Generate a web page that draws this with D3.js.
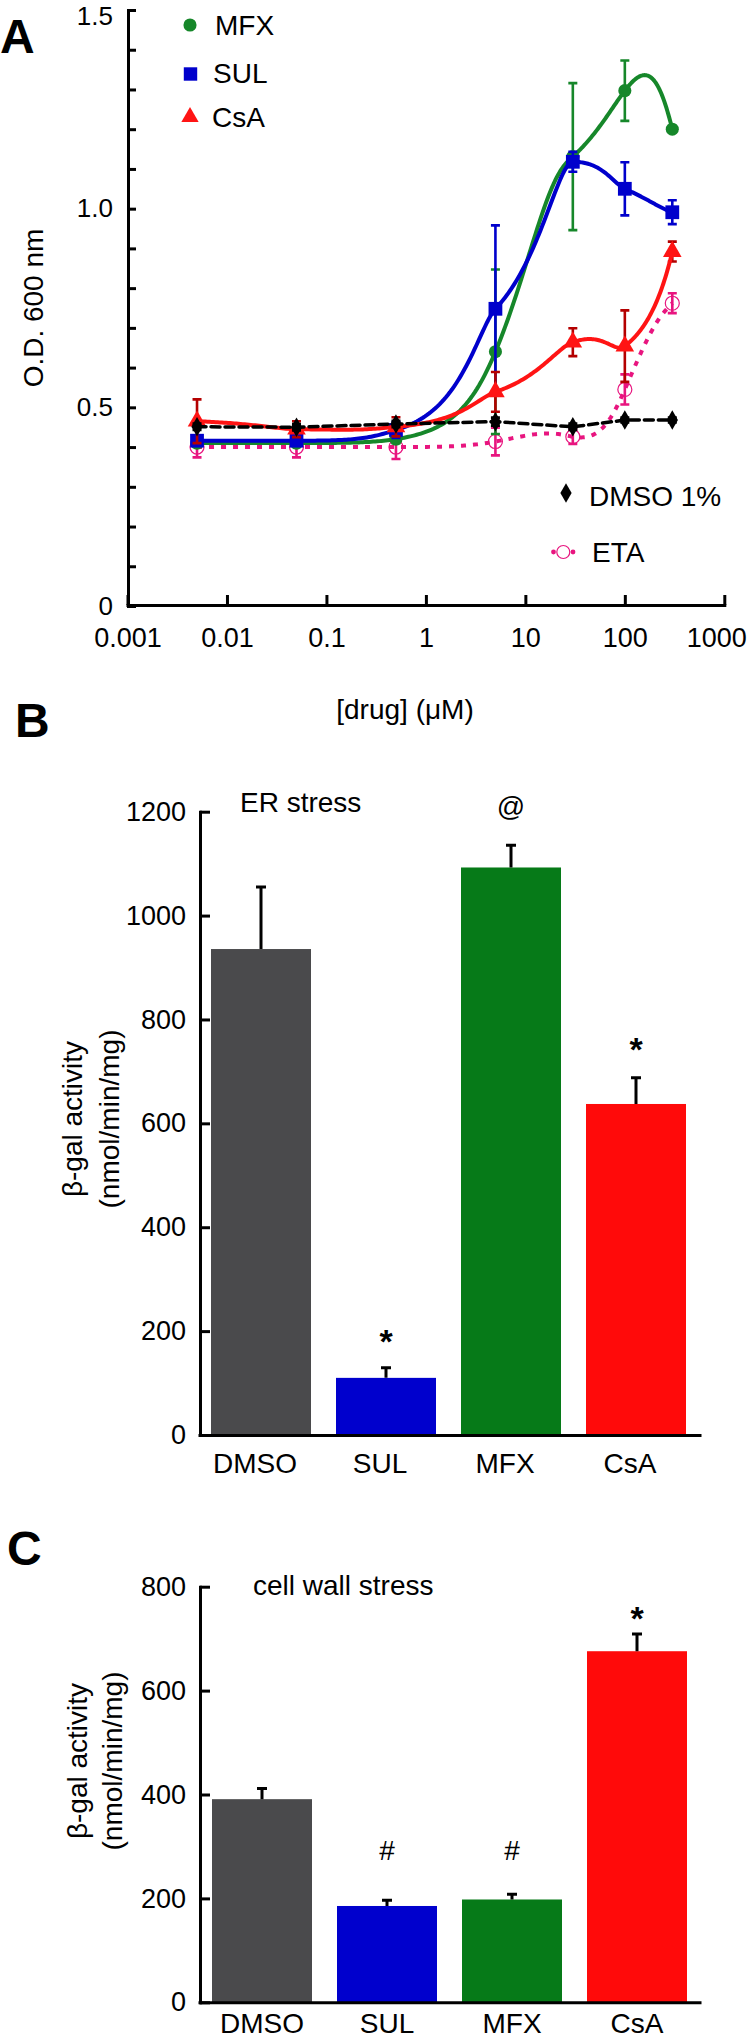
<!DOCTYPE html>
<html><head><meta charset="utf-8">
<script src="https://cdn.jsdelivr.net/npm/d3@7"></script>
<style>
body{margin:0;background:#fff}
svg{display:block}
text{font-family:"Liberation Sans",Arial,Helvetica,sans-serif;fill:#000}
</style>
</head><body>
<svg id="chart" width="747" height="2039"></svg>
<script>
// ---------- DATA ----------
// Panel A: growth (O.D. 600 nm) vs drug concentration (uM)
const conc = [0.005, 0.05, 0.5, 5, 30, 100, 300];
const mfxOD = [0.41, 0.41, 0.42, 0.64, 1.131, 1.297, 1.2];
const mfxErr = [0.01, 0.01, 0.01, 0.207, 0.185, 0.076, 0];
const sulOD = [0.416, 0.416, 0.443, 0.748, 1.118, 1.05, 0.991];
const sulErr = [0.012, 0.012, 0.02, 0.21, 0.025, 0.067, 0.03];
const csaOD = [0.465, 0.445, 0.451, 0.539, 0.664, 0.654, 0.892];
const csaErr = [0.055, 0.02, 0.024, 0.05, 0.035, 0.09, 0.025];
const dmsoOD = [0.451, 0.45, 0.458, 0.464, 0.451, 0.468, 0.468];
const dmsoErr = [0.008, 0.008, 0.008, 0.01, 0.008, 0.006, 0.006];
const etaOD = [0.40, 0.40, 0.40, 0.414, 0.426, 0.545, 0.762];
const etaErr = [0.026, 0.026, 0.03, 0.035, 0.018, 0.038, 0.025];
const seriesNamesA = ["MFX", "SUL", "CsA", "DMSO 1%", "ETA"];

const xTicksA = [0.001, 0.01, 0.1, 1, 10, 100, 1000];
const xTickLabelsA = ["0.001", "0.01", "0.1", "1", "10", "100", "1000"];
const yMajorA = [0, 0.5, 1.0, 1.5];
const yMajorLabelsA = ["0", "0.5", "1.0", "1.5"];

// Panels B and C: beta-gal activity
const barCats = ["DMSO", "SUL", "MFX", "CsA"];
const erValues = [935.6, 110, 1092.6, 637.3];
const erErr = [119.2, 19.6, 42.9, 50.7];
const erMarks = ["", "*", "@", "*"];
const erMarkAt = [null, 157.9, 1191.8, 721];
const cwValues = [391, 185.4, 197.9, 675.8];
const cwErr = [20.7, 10.9, 10.1, 33.2];
const cwMarks = ["", "#", "#", "*"];
const cwMarkAt = [null, 274, 274, 717.6];
const yTicksB = [0, 200, 400, 600, 800, 1000, 1200];
const yTicksC = [0, 200, 400, 600, 800];

// ---------- STYLES ----------
const FONT = '"Liberation Sans",Arial,Helvetica,sans-serif';
const COL = {mfx:"#16872a", sul:"#0000cc", csa:"#ff1414", csaErr:"#b40000", dmso:"#000", eta:"#e8157f"};
const barColors = ["#4a4a4c", "#0000cd", "#067a18", "#ff0a0a"];

const svg = d3.select("#chart");

// Custom d3 curve: cubic spline computed in linear concentration space,
// rendered on the log axis (as the original plotting program did).
// "natural": natural cubic spline; "chord": finite-difference Hermite;
// "chordMono": finite-difference Hermite with monotonicity limiter.
function linearSpaceSpline(scale, mode) {
  return function(context) {
    let px = [], py = [];
    return {
      areaStart() {}, areaEnd() {},
      lineStart() { px = []; py = []; },
      point(x, y) { px.push(+x); py.push(+y); },
      lineEnd() {
        const n = px.length;
        if (!n) return;
        const c = px.map(v => scale.invert(v));
        const h = [], d = [];
        for (let i = 0; i < n - 1; i++) { h.push(c[i + 1] - c[i]); d.push((py[i + 1] - py[i]) / h[i]); }
        let evalSeg;
        if (mode === "natural") {
          const M = new Array(n).fill(0);
          if (n > 2) {
            const m = n - 2, a = [], b = [], cc = [], r = [];
            for (let i = 1; i <= m; i++) { a.push(h[i - 1]); b.push(2 * (h[i - 1] + h[i])); cc.push(h[i]); r.push(6 * (d[i] - d[i - 1])); }
            for (let i = 1; i < m; i++) { const w = a[i] / b[i - 1]; b[i] -= w * cc[i - 1]; r[i] -= w * r[i - 1]; }
            const sol = new Array(m);
            sol[m - 1] = r[m - 1] / b[m - 1];
            for (let i = m - 2; i >= 0; i--) sol[i] = (r[i] - cc[i] * sol[i + 1]) / b[i];
            for (let i = 0; i < m; i++) M[i + 1] = sol[i];
          }
          evalSeg = (i, cv) => {
            const u = cv - c[i], v = c[i + 1] - cv;
            return (M[i] * v * v * v + M[i + 1] * u * u * u) / (6 * h[i])
              + (py[i] / h[i] - M[i] * h[i] / 6) * v + (py[i + 1] / h[i] - M[i + 1] * h[i] / 6) * u;
          };
        } else {
          const m = new Array(n).fill(0);
          for (let i = 1; i < n - 1; i++) {
            m[i] = (py[i + 1] - py[i - 1]) / (c[i + 1] - c[i - 1]);
            if (mode === "chordMono") {
              if (d[i - 1] * d[i] <= 0) m[i] = 0;
              else {
                const lim = 3 * Math.min(Math.abs(d[i - 1]), Math.abs(d[i]));
                if (Math.abs(m[i]) > lim) m[i] = Math.sign(m[i]) * lim;
              }
            }
          }
          if (n > 2) { m[0] = 2 * d[0] - m[1]; m[n - 1] = 2 * d[n - 2] - m[n - 2]; }
          else if (n === 2) { m[0] = m[1] = d[0]; }
          evalSeg = (i, cv) => {
            const t = (cv - c[i]) / h[i], t2 = t * t, t3 = t2 * t;
            return (2 * t3 - 3 * t2 + 1) * py[i] + (t3 - 2 * t2 + t) * h[i] * m[i]
              + (-2 * t3 + 3 * t2) * py[i + 1] + (t3 - t2) * h[i] * m[i + 1];
          };
        }
        context.moveTo(px[0], py[0]);
        const N = 48;
        for (let i = 0; i < n - 1; i++) {
          for (let k = 1; k <= N; k++) {
            const cv = c[i] * Math.pow(c[i + 1] / c[i], k / N);
            context.lineTo(scale(cv), evalSeg(i, cv));
          }
        }
      }
    };
  };
}

function styleAxis(g, fs) {
  g.attr("font-family", FONT).attr("font-size", fs);
  g.selectAll("path.domain").attr("stroke", "#000").attr("stroke-width", 3).attr("stroke-linecap", "square");
  g.selectAll(".tick line").attr("stroke", "#000").attr("stroke-width", 3);
  g.selectAll(".tick text").attr("fill", "#000");
}

// ---------- PANEL A ----------
const xA = d3.scaleLog().domain([0.001, 1000]).range([127.5, 724.3]);
const yA = d3.scaleLinear().domain([0, 1.5]).range([606, 10]);
const gA = svg.append("g");

const yAxisA = d3.axisLeft(yA)
  .tickValues(d3.range(0, 16).map(i => i / 10))
  .tickSize(-8).tickSizeOuter(0).tickPadding(15)
  .tickFormat(d => { const k = yMajorA.findIndex(m => Math.abs(m - d) < 1e-9); return k >= 0 ? yMajorLabelsA[k] : ""; });
const gyA = gA.append("g").attr("transform", "translate(128,0)").call(yAxisA);
styleAxis(gyA, 26);
gyA.selectAll(".tick text").filter(d => Math.abs(d - 1.5) < 1e-9).attr("dy", "0.54em");

const xAxisA = d3.axisBottom(xA).tickValues(xTicksA).tickSize(-10).tickSizeOuter(0).tickPadding(23)
  .tickFormat((d, i) => xTickLabelsA[i]);
const gxA = gA.append("g").attr("transform", "translate(0,605)").call(xAxisA);
styleAxis(gxA, 27);
gxA.selectAll(".tick text").filter(d => d === 1000).attr("text-anchor", "end").attr("x", 22);

gA.append("text").attr("x", 405).attr("y", 719).attr("text-anchor", "middle").attr("font-size", 28).text("[drug] (\u03BCM)");
gA.append("text").attr("transform", "translate(43,308) rotate(-90)").attr("text-anchor", "middle").attr("font-size", 28).text("O.D. 600 nm");
svg.append("text").attr("x", 0).attr("y", 53).attr("font-size", 48).attr("font-weight", "bold").text("A");

const seriesA = [
  {name: seriesNamesA[4], v: etaOD, e: etaErr, color: COL.eta, ecolor: COL.eta, sym: "open", dash: "5,7", w: 4, curve: linearSpaceSpline(xA, "natural")},
  {name: seriesNamesA[0], v: mfxOD, e: mfxErr, color: COL.mfx, ecolor: COL.mfx, sym: d3.symbolCircle, size: 135, dash: null, w: 4, curve: linearSpaceSpline(xA, "natural")},
  {name: seriesNamesA[1], v: sulOD, e: sulErr, color: COL.sul, ecolor: COL.sul, sym: d3.symbolSquare, size: 190, dash: null, w: 4, curve: linearSpaceSpline(xA, "chordMono")},
  {name: seriesNamesA[2], v: csaOD, e: csaErr, color: COL.csa, ecolor: COL.csaErr, sym: d3.symbolTriangle, size: 150, dash: null, w: 4, curve: linearSpaceSpline(xA, "chord")},
  {name: seriesNamesA[3], v: dmsoOD, e: dmsoErr, color: COL.dmso, ecolor: COL.dmso, sym: d3.symbolDiamond, size: 110, dash: "9,5", w: 3.5, curve: d3.curveLinear}
];

seriesA.forEach(s => {
  const g = gA.append("g");
  const pts = conc.map((c, i) => ({c, v: s.v[i], e: s.e[i]}));
  g.selectAll("path.err").data(pts.filter(p => p.e > 0)).join("path").attr("class", "err")
    .attr("d", p => {
      const cx = xA(p.c), y1 = yA(p.v + p.e), y0 = yA(p.v - p.e);
      return `M${cx},${y1}V${y0}M${cx - 4.5},${y1}h9M${cx - 4.5},${y0}h9`;
    })
    .attr("stroke", s.ecolor).attr("stroke-width", 2.6).attr("fill", "none");
  const line = d3.line().x(p => xA(p.c)).y(p => yA(p.v)).curve(s.curve);
  g.append("path").datum(pts).attr("d", line).attr("fill", "none")
    .attr("stroke", s.color).attr("stroke-width", s.w)
    .attr("stroke-dasharray", s.dash).attr("stroke-linecap", s.sym === "open" ? "butt" : "round")
    .attr("stroke-linejoin", "round");
  if (s.sym === "open") {
    g.selectAll("circle.m").data(pts).join("circle").attr("class", "m")
      .attr("cx", p => xA(p.c)).attr("cy", p => yA(p.v)).attr("r", 7)
      .attr("fill", "none").attr("stroke", s.color).attr("stroke-width", 1.2);
  } else {
    const sym = d3.symbol().type(s.sym).size(s.size);
    g.selectAll("path.m").data(pts).join("path").attr("class", "m")
      .attr("transform", p => `translate(${xA(p.c)},${yA(p.v)})`).attr("d", sym).attr("fill", s.color);
  }
});

// legend A
const legendA = [
  {name: seriesNamesA[0], sym: d3.symbolCircle, size: 135, color: COL.mfx, mx: 190, my: 25, tx: 215, ty: 35},
  {name: seriesNamesA[1], sym: d3.symbolSquare, size: 180, color: COL.sul, mx: 190.5, my: 74, tx: 213, ty: 83},
  {name: seriesNamesA[2], sym: d3.symbolTriangle, size: 130, color: COL.csa, mx: 190, my: 117, tx: 212, ty: 127},
  {name: seriesNamesA[3], sym: d3.symbolDiamond, size: 110, color: "#000", mx: 566, my: 493, tx: 589, ty: 506}
];
legendA.forEach(l => {
  gA.append("path").attr("transform", `translate(${l.mx},${l.my})`).attr("d", d3.symbol().type(l.sym).size(l.size)).attr("fill", l.color);
  gA.append("text").attr("x", l.tx).attr("y", l.ty).attr("font-size", 28).text(l.name);
});
gA.append("circle").attr("cx", 553.5).attr("cy", 552).attr("r", 2.4).attr("fill", COL.eta);
gA.append("circle").attr("cx", 573).attr("cy", 552).attr("r", 2.4).attr("fill", COL.eta);
gA.append("circle").attr("cx", 563.3).attr("cy", 552).attr("r", 6.5).attr("fill", "none").attr("stroke", COL.eta).attr("stroke-width", 1.2);
gA.append("text").attr("x", 592).attr("y", 562).attr("font-size", 28).text(seriesNamesA[4]);

// ---------- BAR PANELS ----------
function barPanel(opts) {
  const g = svg.append("g");
  const x = d3.scaleBand().domain(barCats).range([opts.x0, opts.x0 + 500]).paddingInner(0.2).paddingOuter(0.1);
  const y = d3.scaleLinear().domain([0, opts.ymax]).range([opts.y0, opts.y1]);
  g.selectAll("rect.bar").data(barCats).join("rect").attr("class", "bar")
    .attr("x", d => x(d)).attr("width", x.bandwidth())
    .attr("y", (d, i) => y(opts.values[i])).attr("height", (d, i) => y(0) - y(opts.values[i]))
    .attr("fill", (d, i) => barColors[i]);
  g.selectAll("path.err").data(barCats).join("path").attr("class", "err")
    .attr("d", (d, i) => {
      const cx = x(d) + x.bandwidth() / 2, yt = y(opts.values[i] + opts.err[i]), yb = y(opts.values[i]);
      return `M${cx},${yb}V${yt}M${cx - 5},${yt}h10`;
    })
    .attr("stroke", "#000").attr("stroke-width", 3).attr("fill", "none");
  g.selectAll("text.mark").data(barCats.filter((d, i) => opts.marks[i])).join("text").attr("class", "mark")
    .attr("x", d => x(d) + x.bandwidth() / 2)
    .attr("y", d => y(opts.markAt[barCats.indexOf(d)]))
    .attr("text-anchor", "middle")
    .attr("font-size", d => opts.marks[barCats.indexOf(d)] === "*" ? 34 : 28)
    .attr("font-weight", d => opts.marks[barCats.indexOf(d)] === "*" ? "bold" : "normal")
    .text(d => opts.marks[barCats.indexOf(d)]);
  const gy = g.append("g").attr("transform", `translate(${opts.ax},0)`)
    .call(d3.axisLeft(y).tickValues(opts.yticks).tickSize(-10).tickSizeOuter(0).tickPadding(14).tickFormat(d3.format("d")));
  styleAxis(gy, 27);
  const gx = g.append("g").attr("transform", `translate(0,${opts.y0})`)
    .call(d3.axisBottom(x).tickSize(0).tickSizeOuter(0).tickPadding(opts.labelPad));
  styleAxis(gx, 28);
  gx.selectAll(".tick text").attr("x", opts.labelDx);
  gx.select("path.domain").attr("d", `M${opts.ax},0.5H700`);
  g.append("text").attr("transform", `translate(${opts.t1x},${opts.tcy}) rotate(-90)`).attr("text-anchor", "middle").attr("font-size", 28).text("\u03B2-gal activity");
  g.append("text").attr("transform", `translate(${opts.t2x},${opts.tcy}) rotate(-90)`).attr("text-anchor", "middle").attr("font-size", 28).text("(nmol/min/mg)");
  g.append("text").attr("x", opts.subX).attr("y", opts.subY).attr("font-size", 28).text(opts.sub);
  svg.append("text").attr("x", opts.lx).attr("y", opts.ly).attr("font-size", 48).attr("font-weight", "bold").text(opts.letter);
}

barPanel({x0: 198.5, ax: 200, ymax: 1200, y0: 1435, y1: 811.7, values: erValues, err: erErr,
  marks: erMarks, markAt: erMarkAt, yticks: yTicksB, labelDx: -6, labelPad: 18,
  t1x: 82, t2x: 119, tcy: 1119, sub: "ER stress", subX: 240, subY: 812,
  letter: "B", lx: 15, ly: 737});

barPanel({x0: 199.5, ax: 200, ymax: 800, y0: 2002.3, y1: 1586.7, values: cwValues, err: cwErr,
  marks: cwMarks, markAt: cwMarkAt, yticks: yTicksC, labelDx: 0, labelPad: 10.5,
  t1x: 87, t2x: 122, tcy: 1761, sub: "cell wall stress", subX: 253, subY: 1595,
  letter: "C", lx: 7, ly: 1565});
</script>
</body></html>
